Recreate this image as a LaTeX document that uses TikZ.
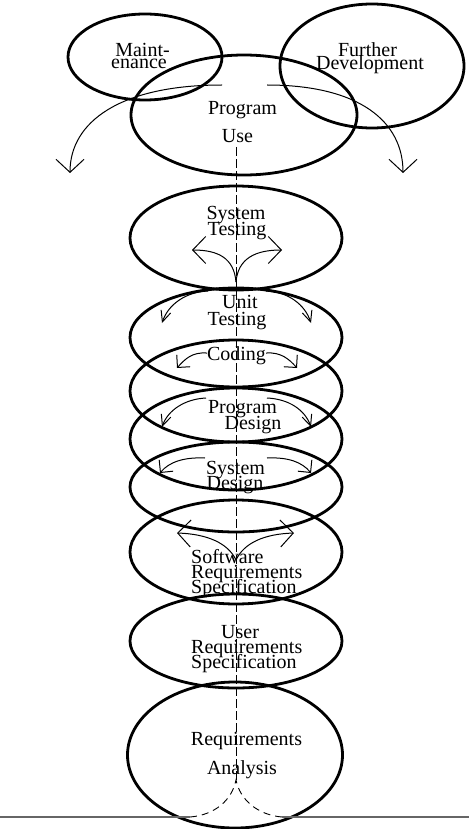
\documentclass[tikz,border=0pt]{standalone}
\usepackage{fontspec}
\setmainfont{Liberation Serif}
\usetikzlibrary{arrows.meta,shapes.geometric}
\begin{document}
\begin{tikzpicture}[x=1pt,y=-1pt,
  phase/.style={draw, ellipse, line width=2.8pt, inner sep=0pt},
  lbl/.style={inner sep=0pt, anchor=base, font=\fontsize{20}{20}\selectfont},
  lblw/.style={lbl, anchor=base west},
  flow/.style={line width=1pt},
  barbwide/.style={flow, -{Straight Barb[length=13pt,width=28pt]}},
  barbside/.style={flow, -{Straight Barb[length=13pt,width=27pt]}},
  barbnarrow/.style={flow, -{Straight Barb[length=11pt,width=10pt]}},
  barbsquare/.style={flow, -{Straight Barb[length=9pt,width=18pt]}},
  axis/.style={line width=0.9pt, dash pattern=on 9pt off 3pt},
  root/.style={line width=0.9pt, dash pattern=on 7pt off 5pt},
  ground/.style={line width=1.4pt, black!60}
]
\useasboundingbox (0,0) rectangle (469,829);

% the phases of the life cycle
\node[phase, minimum width=154pt, minimum height=86pt]  (maint)   at (145,57)    {};
\node[phase, minimum width=184pt, minimum height=124pt] (further) at (372,66)    {};
\node[phase, minimum width=226pt, minimum height=120pt] (use)     at (244,115)   {};
\node[phase, minimum width=212pt, minimum height=104pt] (systest) at (236,238)   {};
\node[phase, minimum width=212pt, minimum height=99pt]  (unittest) at (236,337.5) {};
\node[phase, minimum width=212pt, minimum height=102pt] (coding)  at (236,391)   {};
\node[phase, minimum width=212pt, minimum height=102pt] (progdes) at (236,439)   {};
\node[phase, minimum width=212pt, minimum height=90pt]  (sysdes)  at (236,487)   {};
\node[phase, minimum width=212pt, minimum height=104pt] (softreq) at (236,552)   {};
\node[phase, minimum width=212pt, minimum height=94pt]  (userreq) at (236,641)   {};
\node[phase, minimum width=215pt, minimum height=146pt] (reqana)  at (235,755)   {};

% labels
\node[lbl] (tMaintA) at (142.5,57) {Maint-};
\node[lbl] (tMaintB) at (139,69)   {enance};
\node[lbl] (tFurtherA) at (367.5,57) {Further};
\node[lbl] (tFurtherB) at (370,70)   {Development};
\node[lbl] (tUseA) at (242.5,115) {Program};
\node[lbl] (tUseB) at (237.5,143) {Use};
\node[lbl] (tSysTestA) at (236,219.5) {System};
\node[lbl] (tSysTestB) at (237,235.5) {Testing};
\node[lbl] (tUnitA) at (240,308.5) {Unit};
\node[lbl] (tUnitB) at (237,325)   {Testing};
\node[lbl] (tCoding) at (236.5,360) {Coding};
\node[lbl] (tProgDesA) at (242.5,413) {Program};
\node[lbl] (tProgDesB) at (253,429)   {Design};
\node[lbl] (tSysDesA) at (235.5,474) {System};
\node[lbl] (tSysDesB) at (235,489)   {Design};
\node[lblw] (tSoftA) at (191,563) {Software};
\node[lblw] (tSoftB) at (191,578) {Requirements};
\node[lblw] (tSoftC) at (191,593) {Specification};
\node[lblw] (tUserA) at (221,638) {User};
\node[lblw] (tUserB) at (191,653) {Requirements};
\node[lblw] (tUserC) at (191,668) {Specification};
\node[lbl] (tReqA) at (246.5,745) {Requirements};
\node[lbl] (tReqB) at (242,774)   {Analysis};

% central axis and its roots
\coordinate (axisTop) at (236,147);
\coordinate (axisFoot) at (236,780);
\coordinate (rootL) at (190,817);
\coordinate (rootR) at (282,817);
\draw[axis] (axisTop) -- (axisFoot);
\draw[root] (rootL) .. controls (215,815) and (232,800) .. (axisFoot)
            .. controls (240,800) and (258,815) .. (rootR);
\draw[ground] (0,817) -- (rootL);
\draw[ground] (rootR) -- (469,817);

% outflow from program use
\draw[barbwide] (222,85) .. controls (120,85) and (70,122) .. (70,173);
\draw[barbwide] (267,85) .. controls (360,85) and (403,122) .. (403,173);

% system testing
\draw[barbside] (236,282) .. controls (234,258) and (218,250) .. (192,250);
\draw[barbside] (236,282) .. controls (238,258) and (256,250) .. (282,250);

% unit testing
\draw[barbnarrow] (208,291) .. controls (185,292) and (168,305) .. (162,323);
\draw[barbnarrow] (266,291) .. controls (289,292) and (305,305) .. (311,323);

% coding
\draw[barbsquare] (tCoding.west |- 0,353) .. controls (192,352) and (185,359) .. (177,368);
\draw[barbsquare] (tCoding.east |- 0,353) .. controls (281,352) and (289,359) .. (297,368);

% program design
\draw[barbnarrow] (206,398) .. controls (185,399) and (168,410) .. (162,427);
\draw[barbnarrow] (267,398) .. controls (289,399) and (305,410) .. (311,427);

% system design
\draw[barbsquare] (205,458) .. controls (184,457) and (169,462) .. (160,473);
\draw[barbsquare] (267,458) .. controls (288,457) and (302,462) .. (311,473);

% software requirements specification
\draw[barbside] (236,560) .. controls (228,543) and (207,534) .. (177,533);
\draw[barbside] (236,560) .. controls (244,543) and (264,534) .. (294,533);
\end{tikzpicture}
\end{document}
